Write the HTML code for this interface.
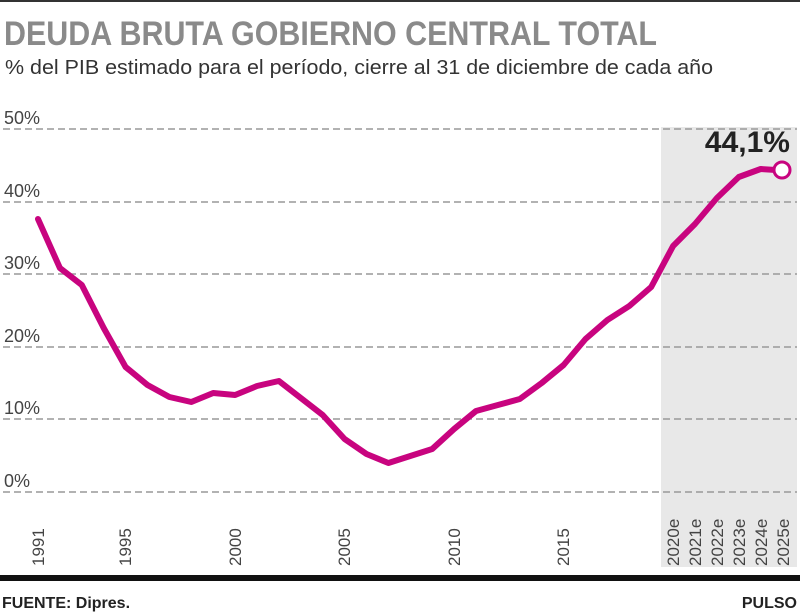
<!DOCTYPE html>
<html><head><meta charset="utf-8"><style>
body{margin:0;background:#fff}
svg{display:block}
text{font-family:"Liberation Sans",sans-serif}
</style></head><body>
<svg width="800" height="614" viewBox="0 0 800 614">
<rect x="0" y="0" width="800" height="2" fill="#333"/>
<text x="4" y="45" font-size="34" font-weight="bold" fill="#8a8a8a" textLength="653" lengthAdjust="spacingAndGlyphs">DEUDA BRUTA GOBIERNO CENTRAL TOTAL</text>
<text x="5" y="74" font-size="20" fill="#333" textLength="708" lengthAdjust="spacingAndGlyphs">% del PIB estimado para el período, cierre al 31 de diciembre de cada año</text>
<rect x="661" y="127" width="136" height="440" fill="#e8e8e8"/>
<g stroke="#999" stroke-width="1.5" stroke-dasharray="7,4">
<line x1="3" y1="129" x2="797" y2="129"/>
<line x1="3" y1="202" x2="797" y2="202"/>
<line x1="3" y1="274" x2="797" y2="274"/>
<line x1="3" y1="347" x2="797" y2="347"/>
<line x1="3" y1="419" x2="797" y2="419"/>
<line x1="3" y1="492" x2="797" y2="492"/>
</g>
<g font-size="18" fill="#444">
<text x="4" y="124">50%</text><text x="4" y="197">40%</text><text x="4" y="269">30%</text>
<text x="4" y="342">20%</text><text x="4" y="414">10%</text><text x="4" y="487">0%</text>
</g>
<g font-size="17" fill="#444">
<text transform="translate(44,566) rotate(-90)">1991</text>
<text transform="translate(131,566) rotate(-90)">1995</text>
<text transform="translate(241,566) rotate(-90)">2000</text>
<text transform="translate(350,566) rotate(-90)">2005</text>
<text transform="translate(460,566) rotate(-90)">2010</text>
<text transform="translate(569,566) rotate(-90)">2015</text>
<text transform="translate(679,566) rotate(-90)">2020e</text>
<text transform="translate(701,566) rotate(-90)">2021e</text>
<text transform="translate(723,566) rotate(-90)">2022e</text>
<text transform="translate(745,566) rotate(-90)">2023e</text>
<text transform="translate(767,566) rotate(-90)">2024e</text>
<text transform="translate(789,566) rotate(-90)">2025e</text>
</g>
<polyline fill="none" stroke="#c8047f" stroke-width="6" stroke-linejoin="round" stroke-linecap="round" points="38,219 59.9,268 81.8,285 103.7,328 125.6,367 147.5,385 169.4,397 191.3,402 213.2,393 235.1,395 257,386 278.9,381 300.8,398 322.7,415 344.6,439 366.5,454 388.4,463 410.3,456 432.2,449 454.1,429 476,411 497.9,405 519.8,399 541.7,383 563.6,365 585.5,339 607.4,320 629.3,306 651.2,287 673.1,246 695,224 716.9,198 738.8,177 760.7,169 776,170"/>
<circle cx="782" cy="170" r="8" fill="#fff" stroke="#c8047f" stroke-width="3"/>
<text x="790" y="152" font-size="30" font-weight="bold" fill="#222" text-anchor="end">44,1%</text>
<rect x="0" y="575" width="800" height="6" fill="#111"/>
<text x="2" y="608" font-size="16" font-weight="bold" fill="#222">FUENTE: Dipres.</text>
<text x="797" y="608" font-size="16" font-weight="bold" fill="#222" text-anchor="end">PULSO</text>
</svg>
</body></html>
